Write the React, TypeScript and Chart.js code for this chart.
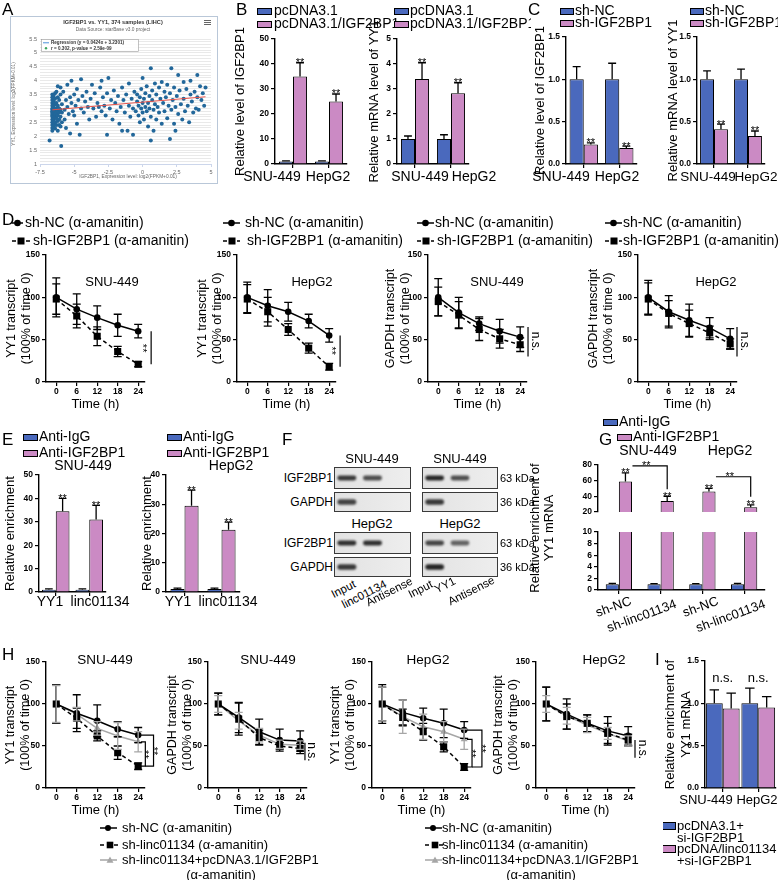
import React, { useEffect, useRef } from 'react';
import { Chart, registerables } from 'chart.js';

Chart.register(...registerables);

const FONT = '"Liberation Sans", Arial, Helvetica, sans-serif';
const BLUE = '#4a69bd';
const PINK = '#cb8ac4';
const GREY = '#a6a6a6';
const DOT = '#22679a';

/* ====================== DATA ====================== */
// Panel A (scatter, starBase screenshot)
const aTicksX = [-7.5, -5, -2.5, 0, 2.5, 5];
const aTicksY = [1, 1.5, 2, 2.5, 3, 3.5, 4, 4.5, 5, 5.5];
const aRegX = [-6.6, 4.6];
const aRegY = [2.95, 3.42];
const aPoints: number[][] = [
  [-6.8, 1.85], [-6.6, 3.5], [-6.6, 3.4], [-6.6, 3.3], [-6.6, 3.2], [-6.6, 3.1], [-6.6, 3.0], [-6.6, 2.95], [-6.6, 2.9],
  [-6.6, 2.85], [-6.6, 2.8], [-6.6, 2.75], [-6.6, 2.7], [-6.6, 2.6], [-6.6, 2.5], [-6.6, 2.4], [-6.6, 2.3], [-6.6, 2.2],
  [-6.5, 3.45], [-6.5, 3.25], [-6.5, 3.05], [-6.5, 2.92], [-6.5, 2.82], [-6.5, 2.72], [-6.5, 2.62], [-6.5, 2.55], [-6.5, 2.45], [-6.5, 2.35],
  [-6.4, 3.55], [-6.4, 3.35], [-6.4, 3.15], [-6.4, 2.98], [-6.4, 2.88], [-6.4, 2.78], [-6.4, 2.68], [-6.4, 2.5], [-6.4, 2.28],
  [-6.3, 3.6], [-6.3, 3.2], [-6.3, 3.0], [-6.3, 2.85], [-6.3, 2.65], [-6.3, 2.4],
  [-6.2, 3.8], [-6.2, 3.4], [-6.2, 3.1], [-6.2, 2.9], [-6.2, 2.75], [-6.2, 2.55], [-6.2, 2.2],
  [-6.1, 3.3], [-6.1, 3.0], [-6.1, 2.85], [-6.1, 2.6], [-6.1, 2.4],
  [-6.0, 3.75], [-6.0, 3.5], [-6.0, 2.95], [-6.0, 2.7], [-6.0, 2.35], [-5.9, 3.15], [-5.9, 2.85], [-5.9, 2.5], [-5.95, 1.65],
  [-5.8, 3.6], [-5.7, 2.95], [-5.7, 2.6], [-5.6, 3.3], [-5.6, 2.3], [-5.5, 3.85], [-5.5, 3.05], [-5.4, 2.8], [-5.3, 3.4], [-5.3, 2.1],
  [-5.2, 4.0], [-5.2, 3.2], [-5.1, 2.9], [-5.0, 3.5], [-5.0, 2.75], [-4.9, 3.1], [-4.8, 3.7], [-4.8, 2.45], [-4.7, 3.3], [-4.6, 2.05],
  [-4.5, 3.0], [-4.5, 4.05], [-4.4, 3.45], [-4.3, 2.85], [-4.2, 3.25], [-4.1, 3.6], [-4.0, 3.05], [-3.9, 2.6], [-3.8, 3.35], [-3.7, 3.85],
  [-3.6, 3.0], [-3.5, 3.55], [-3.4, 2.7], [-3.3, 3.2], [-3.2, 3.05], [-3.1, 3.75], [-3.0, 2.9], [-3.0, 4.0],
  [-2.9, 3.4], [-2.8, 3.1], [-2.7, 2.75], [-2.6, 3.55], [-2.6, 2.05], [-2.5, 4.1], [-2.4, 3.0], [-2.3, 3.3], [-2.2, 2.6], [-2.1, 3.65],
  [-2.0, 3.2], [-1.9, 2.9], [-1.8, 3.45], [-1.7, 2.45], [-1.6, 3.05], [-1.5, 3.75], [-1.5, 2.2], [-1.4, 3.3], [-1.3, 2.85], [-1.2, 3.5],
  [-1.1, 2.2], [-1.0, 3.1], [-1.0, 3.9], [-0.9, 2.7], [-0.8, 3.35], [-0.7, 2.05], [-0.7, 3.0], [-0.6, 3.6], [-0.5, 2.9],
  [-0.4, 3.25], [-0.4, 3.5], [-0.3, 2.75], [-0.3, 3.1], [-0.2, 3.4], [-0.2, 2.5], [-0.1, 3.0], [-0.1, 3.7], [0.0, 3.2], [0.0, 2.85],
  [0.0, 4.1], [0.1, 3.35], [0.1, 2.6], [0.2, 3.05], [0.2, 3.55], [0.3, 2.9], [0.3, 3.8], [0.4, 3.2], [0.4, 2.35], [0.5, 3.45],
  [0.5, 3.0], [0.6, 4.45], [0.6, 2.7], [0.6, 1.85], [0.7, 3.3], [0.7, 3.65], [0.8, 2.95], [0.8, 2.2], [0.9, 3.15], [0.9, 3.9],
  [1.0, 3.5], [1.0, 2.6], [1.1, 3.05], [1.2, 3.75], [1.2, 2.85], [1.3, 3.35], [1.4, 2.45], [1.4, 3.95], [1.5, 3.2],
  [1.6, 3.6], [1.6, 2.9], [1.7, 3.4], [1.8, 2.65], [1.8, 3.85], [1.9, 3.1], [2.0, 1.9], [2.0, 3.55], [2.1, 4.45], [2.1, 2.95],
  [2.2, 3.3], [2.3, 2.45], [2.3, 3.75], [2.4, 3.05], [2.4, 2.2], [2.5, 3.45], [2.6, 4.2], [2.6, 2.8], [2.7, 3.65], [2.8, 3.15],
  [2.9, 2.6], [3.0, 3.95], [3.0, 3.35], [3.1, 2.9], [3.2, 3.7], [3.3, 3.1], [3.4, 2.5], [3.5, 3.5], [3.5, 4.0], [3.6, 3.25],
  [3.7, 2.85], [3.8, 3.6], [3.9, 3.0], [4.0, 3.4], [4.0, 4.2], [4.1, 2.95], [4.2, 3.8], [4.3, 3.3], [4.4, 3.55], [4.5, 3.1], [4.6, 3.75],
];

// Panel B
const cellLines = ['SNU-449', 'HepG2'];
const bTicksIgf = [0, 10, 20, 30, 40, 50];
const bIgfCtrl = [1, 1];
const bIgfCtrlErr = [0.25, 0.25];
const bIgfOe = [35, 25];
const bIgfOeErr = [5.5, 3];
const bTicksYy1 = [0, 1, 2, 3, 4, 5];
const bYy1Ctrl = [1, 1];
const bYy1CtrlErr = [0.12, 0.17];
const bYy1Oe = [3.4, 2.83];
const bYy1OeErr = [0.65, 0.42];

// Panel C
const cTicks = [0, 0.5, 1, 1.5];
const cIgfNc = [1, 1];
const cIgfNcErr = [0.15, 0.19];
const cIgfSh = [0.23, 0.19];
const cIgfShErr = [0.02, 0.02];
const cYy1Nc = [1, 1];
const cYy1NcErr = [0.1, 0.12];
const cYy1Sh = [0.41, 0.33];
const cYy1ShErr = [0.06, 0.06];

// Panel D (decay curves)
const timePoints = [0, 6, 12, 18, 24];
const dTicks = [0, 50, 100, 150];
const dSnuYy1Nc = [100, 86, 76, 67, 60];
const dSnuYy1NcErr = [23, 18, 14, 13, 8];
const dSnuYy1Sh = [98, 78, 54, 36, 21];
const dSnuYy1ShErr = [18, 14, 11, 6, 3];
const dHepYy1Nc = [100, 90, 83, 72, 55];
const dHepYy1NcErr = [18, 19, 11, 8, 8];
const dHepYy1Sh = [98, 83, 62, 40, 18];
const dHepYy1ShErr = [17, 17, 7, 6, 4];
const dSnuGapNc = [100, 82, 69, 60, 53];
const dSnuGapNcErr = [22, 18, 8, 14, 12];
const dSnuGapSh = [95, 79, 62, 51, 44];
const dSnuGapShErr = [17, 16, 13, 11, 8];
const dHepGapNc = [100, 83, 73, 64, 51];
const dHepGapNcErr = [20, 19, 19, 12, 12];
const dHepGapSh = [98, 81, 69, 58, 45];
const dHepGapShErr = [19, 15, 16, 8, 6];

// Panel E (RIP)
const eTargets = ['YY1', 'linc01134'];
const eTicksSnu = [0, 10, 20, 30, 40, 50];
const eTicksHep = [0, 10, 20, 30, 40];
const eSnuIgg = [1, 1];
const eSnuIggErr = [0.3, 0.3];
const eSnuIgf = [34.5, 31];
const eSnuIgfErr = [5.5, 6];
const eHepIgg = [1, 1];
const eHepIggErr = [0.3, 0.3];
const eHepIgf = [29.5, 21.3];
const eHepIgfErr = [5.3, 2.6];

// Panel F (RNA pull-down blots), band intensities per lane
const fLanesLinc = ['Input', 'linc01134', 'Antisense'];
const fLanesYy1 = ['Input', 'YY1', 'Antisense'];
const fSnuIgfLinc = [0.85, 0.75, 0];
const fSnuGapLinc = [0.8, 0, 0];
const fSnuIgfYy1 = [0.95, 0.75, 0];
const fSnuGapYy1 = [0.85, 0, 0];
const fHepIgfLinc = [0.9, 0.9, 0];
const fHepGapLinc = [0.85, 0, 0];
const fHepIgfYy1 = [0.8, 0.65, 0];
const fHepGapYy1 = [0.95, 0, 0];

// Panel G (broken axis)
const gGroups = ['sh-NC', 'sh-linc01134', 'sh-NC', 'sh-linc01134'];
const gTicksHigh = [20, 40, 60, 80];
const gTicksLow = [0, 2, 4, 6, 8, 10];
const gIgg = [1, 1, 1, 1];
const gIggErr = [0.15, 0.1, 0.1, 0.15];
const gIgf = [59, 34, 46, 26];
const gIgfErr = [11, 6, 4, 3];

// Panel H (decay curves, three groups)
const hSnuYy1Nc = [100, 89, 80, 70, 63];
const hSnuYy1NcErr = [23, 22, 19, 9, 9];
const hSnuYy1Sh = [100, 83, 62, 42, 26];
const hSnuYy1ShErr = [23, 12, 6, 8, 4];
const hSnuYy1Rs = [100, 88, 71, 62, 55];
const hSnuYy1RsErr = [22, 8, 8, 16, 12];
const hSnuGapNc = [100, 84, 67, 57, 56];
const hSnuGapNcErr = [13, 18, 15, 13, 12];
const hSnuGapSh = [100, 82, 60, 50, 47];
const hSnuGapShErr = [13, 19, 9, 4, 6];
const hSnuGapRs = [100, 80, 63, 52, 51];
const hSnuGapRsErr = [10, 10, 8, 5, 5];
const hHepYy1Nc = [100, 90, 83, 77, 69];
const hHepYy1NcErr = [23, 15, 12, 17, 10];
const hHepYy1Sh = [100, 84, 67, 49, 25];
const hHepYy1ShErr = [20, 10, 10, 6, 4];
const hHepYy1Rs = [100, 85, 73, 67, 58];
const hHepYy1RsErr = [20, 20, 15, 12, 12];
const hHepGapNc = [100, 88, 77, 68, 62];
const hHepGapNcErr = [20, 18, 10, 17, 11];
const hHepGapSh = [100, 85, 77, 65, 57];
const hHepGapShErr = [20, 15, 10, 12, 7];
const hHepGapRs = [100, 86, 75, 65, 56];
const hHepGapRsErr = [10, 10, 9, 7, 6];

// Panel I
const iTicks = [0, 0.5, 1, 1.5];
const iCtrl = [1, 1];
const iCtrlErr = [0.16, 0.18];
const iLinc = [0.94, 0.95];
const iLincErr = [0.18, 0.13];

/* ====================== PLUGINS ====================== */
const errPlugin = {
  id: 'errbars',
  afterDatasetsDraw(chart: any) {
    const { ctx, chartArea: ca } = chart;
    ctx.save();
    ctx.beginPath();
    ctx.rect(ca.left - 10, ca.top - 3, ca.right - ca.left + 20, ca.bottom - ca.top + 6);
    ctx.clip();
    chart.data.datasets.forEach((ds: any, di: number) => {
      if (!ds.err) return;
      const meta = chart.getDatasetMeta(di);
      const ys = chart.scales[meta.yAxisID];
      const isBar = meta.type === 'bar';
      ctx.strokeStyle = ds.errColor || '#000';
      ctx.lineWidth = 1.3;
      meta.data.forEach((el: any, i: number) => {
        const raw = ds.data[i];
        const v = typeof raw === 'number' ? raw : raw && raw.y;
        const e = ds.err[i];
        if (v == null || e == null) return;
        const x = el.x;
        const top = ys.getPixelForValue(v + e);
        const bot = isBar ? ys.getPixelForValue(v) : ys.getPixelForValue(v - e);
        const cap = isBar ? el.width * 0.28 : 4;
        ctx.beginPath();
        ctx.moveTo(x, top);
        ctx.lineTo(x, bot);
        ctx.moveTo(x - cap, top);
        ctx.lineTo(x + cap, top);
        if (!isBar) {
          ctx.moveTo(x - cap, bot);
          ctx.lineTo(x + cap, bot);
        }
        ctx.stroke();
      });
    });
    ctx.restore();
  },
};
Chart.register(errPlugin as any);

function drawText(ctx: any, t: string, x: number, y: number, s: number, align: string, rot: number, base: string, color = '#000', bold = false) {
  ctx.save();
  ctx.font = `${bold ? 'bold ' : ''}${s}px ${FONT}`;
  ctx.fillStyle = color;
  ctx.textAlign = align;
  let off = 0;
  if (base === 'star') { ctx.textBaseline = 'alphabetic'; off = 0.45 * s; }
  else if (base === 'starmid') { ctx.textBaseline = 'alphabetic'; off = 0.58 * s; }
  else ctx.textBaseline = 'middle';
  ctx.translate(x, y);
  if (rot) ctx.rotate((rot * Math.PI) / 180);
  ctx.fillText(t, 0, off);
  ctx.restore();
}

function deco(ox: number, oy: number, page: any[], data: any[]) {
  return {
    id: 'deco',
    afterDraw(chart: any) {
      const ctx = chart.ctx;
      const xs = chart.scales.x;
      const ys = chart.scales.y;
      const px = (s: any): number => {
        if (typeof s === 'number') return xs.getPixelForValue(s);
        if (Array.isArray(s)) return (px(s[0]) + px(s[1])) / 2;
        return chart.getDatasetMeta(s.ds).data[s.i].x + (s.dx || 0);
      };
      const py = (v: number) => ys.getPixelForValue(v);
      for (const it of data) {
        if (it.k === 'p') {
          ctx.save();
          ctx.strokeStyle = '#000';
          ctx.lineWidth = 1.2;
          ctx.beginPath();
          it.pts.forEach((p: any, j: number) => {
            const X = px(p[0]);
            const Y = py(p[1]);
            if (j) ctx.lineTo(X, Y); else ctx.moveTo(X, Y);
          });
          ctx.stroke();
          ctx.restore();
        } else if (it.k === 'star') {
          const ds = chart.data.datasets[it.ds];
          const X = chart.getDatasetMeta(it.ds).data[it.i].x;
          const Y = py(ds.data[it.i] + (ds.err ? ds.err[it.i] : 0)) - 1.5;
          drawText(ctx, it.t || '**', X, Y, it.s || 11, 'center', 0, 'star');
        } else if (it.k === 't') {
          drawText(ctx, it.t, px(it.x) + (it.dx || 0), py(it.y) + (it.dy || 0), it.s || 11, 'center', it.rot || 0, it.base || 'middle');
        }
      }
      for (const it of page) {
        ctx.save();
        if (it.k === 'text') {
          drawText(ctx, it.t, it.x - ox, it.y - oy, it.s || 13, it.a || 'left', it.rot || 0, 'middle', it.c || '#000', !!it.b);
        } else if (it.k === 'patch') {
          ctx.fillStyle = it.c;
          ctx.fillRect(it.x - ox, it.y - oy, it.w, it.h);
          ctx.strokeStyle = '#000';
          ctx.lineWidth = 1;
          ctx.strokeRect(it.x - ox + 0.5, it.y - oy + 0.5, it.w - 1, it.h - 1);
        } else if (it.k === 'key') {
          const y = it.y - oy;
          ctx.strokeStyle = it.c;
          ctx.fillStyle = it.c;
          ctx.lineWidth = 1.5;
          ctx.setLineDash(it.dash || []);
          ctx.beginPath();
          ctx.moveTo(it.x1 - ox, y);
          ctx.lineTo(it.x2 - ox, y);
          ctx.stroke();
          ctx.setLineDash([]);
          const mx = it.mx - ox;
          const r = it.r || 3.3;
          ctx.beginPath();
          if (it.m === 'circle' || it.m === 'dot') { ctx.arc(mx, y, r, 0, Math.PI * 2); ctx.fill(); }
          else if (it.m === 'rect') { ctx.fillRect(mx - r, y - r, 2 * r, 2 * r); }
          else if (it.m === 'tri') { ctx.moveTo(mx, y - r); ctx.lineTo(mx + r, y + r * 0.8); ctx.lineTo(mx - r, y + r * 0.8); ctx.closePath(); ctx.fill(); }
        } else if (it.k === 'rect') {
          if (it.fill) { ctx.fillStyle = it.fill; ctx.fillRect(it.x - ox, it.y - oy, it.w, it.h); }
          ctx.strokeStyle = it.c || '#999';
          ctx.lineWidth = it.lw || 1;
          ctx.strokeRect(it.x - ox, it.y - oy, it.w, it.h);
        } else if (it.k === 'line') {
          ctx.strokeStyle = it.c || '#000';
          ctx.lineWidth = it.lw || 1;
          ctx.beginPath();
          ctx.moveTo(it.x1 - ox, it.y1 - oy);
          ctx.lineTo(it.x2 - ox, it.y2 - oy);
          ctx.stroke();
        }
        ctx.restore();
      }
    },
  };
}

const blotBg = {
  id: 'blotBg',
  beforeDatasetsDraw(chart: any) {
    const { ctx, chartArea: ca } = chart;
    ctx.save();
    const g = ctx.createLinearGradient(ca.left, 0, ca.right, 0);
    g.addColorStop(0, '#e2e2e2');
    g.addColorStop(1, '#eeeeee');
    ctx.fillStyle = g;
    ctx.fillRect(ca.left, ca.top, ca.right - ca.left, ca.bottom - ca.top);
    ctx.restore();
    ctx.filter = 'blur(0.8px)';
  },
  afterDatasetsDraw(chart: any) {
    const { ctx, chartArea: ca } = chart;
    ctx.filter = 'none';
    ctx.save();
    ctx.strokeStyle = '#3a3a3a';
    ctx.lineWidth = 1;
    ctx.strokeRect(ca.left + 0.5, ca.top + 0.5, ca.right - ca.left - 1, ca.bottom - ca.top - 1);
    ctx.restore();
  },
};

/* ====================== BUILDERS ====================== */
type Frame = { l: number; t: number; r: number; b: number; yw: number; xh: number; pt: number; pr: number; pb?: number };
type Rect = { x: number; y: number; w: number; h: number };
type Spec = { frame: Frame; build: (r: Rect) => any };

const rectOf = (f: Frame): Rect => ({
  x: f.l - f.yw,
  y: f.t - f.pt,
  w: f.yw + (f.r - f.l) + f.pr,
  h: f.pt + (f.b - f.t) + f.xh + (f.pb || 0),
});

function baseOptions(f: Frame) {
  return {
    responsive: false,
    maintainAspectRatio: false,
    animation: false,
    events: [],
    layout: { padding: { left: 0, top: f.pt, right: f.pr, bottom: f.pb || 0 } },
    plugins: { legend: { display: false }, tooltip: { enabled: false }, title: { display: false } },
  };
}

const tickFont = () => ({ family: FONT, size: 8.5, weight: 'bold' });
const axisGrid = () => ({ display: true, drawOnChartArea: false, drawTicks: true, tickLength: 4, color: '#000', lineWidth: 1.2 });
const axisBorder = () => ({ display: true, color: '#000', width: 1.4 });

function yAxis(f: Frame, min: number, max: number, ticks: number[], title: any, ts = 13, fmt?: any) {
  return {
    type: 'linear',
    min,
    max,
    afterBuildTicks: (s: any) => { s.ticks = ticks.map((v) => ({ value: v })); },
    ticks: { font: tickFont(), color: '#000', padding: 2, autoSkip: false, callback: fmt || ((v: any) => String(v)) },
    grid: axisGrid(),
    border: axisBorder(),
    title: title ? { display: true, text: title, font: { family: FONT, size: ts }, color: '#000', padding: 0 } : { display: false },
    afterFit: (s: any) => { s.width = f.yw; },
  };
}

// category x axis: tick marks only, labels are placed as text where the original puts them
function xCat(f: Frame) {
  return {
    type: 'category',
    offset: true,
    ticks: { display: false, autoSkip: false },
    grid: { ...axisGrid(), offset: false },
    border: axisBorder(),
    afterFit: (s: any) => { s.height = f.xh; },
  };
}

function xTime(f: Frame) {
  return {
    type: 'linear',
    min: -3,
    max: 26,
    afterBuildTicks: (s: any) => { s.ticks = timePoints.map((v) => ({ value: v })); },
    ticks: { font: tickFont(), color: '#000', padding: 1, autoSkip: false },
    grid: axisGrid(),
    border: axisBorder(),
    title: { display: true, text: 'Time (h)', font: { family: FONT, size: 13 }, color: '#000', padding: 0 },
    afterFit: (s: any) => { s.height = f.xh; },
  };
}

const fix1 = (v: any) => Number(v).toFixed(1);

// label text items under a category axis (labels[i] centred at xs[i])
const catLabels = (labels: string[], xs: number[], y: number, s = 14) =>
  labels.map((t, i) => ({ k: 'text', x: xs[i], y, t, s, a: 'center' }));

function barSpec(f: Frame, o: any): Spec {
  return {
    frame: f,
    build: (r) => ({
      type: 'bar',
      data: {
        labels: o.labels,
        datasets: o.series.map((s: any) => ({
          data: s.v, err: s.e, backgroundColor: s.c, borderColor: '#000', borderWidth: 1,
          categoryPercentage: o.cp, barPercentage: o.bp || 1,
        })),
      },
      options: {
        ...baseOptions(f),
        scales: {
          x: o.x || xCat(f),
          y: yAxis(f, o.min, o.max, o.ticks, o.title, o.ts || 13, o.fmt),
        },
      },
      plugins: [deco(r.x, r.y, o.page || [], o.data || [])],
    }),
  };
}

const NC = { c: '#000', m: 'circle', r: 3.3 };
const SH = { c: '#000', m: 'rect', r: 5, dash: [4, 3] };
const RS = { c: GREY, m: 'triangle', r: 4 };

function lineSpec(f: Frame, o: any): Spec {
  return {
    frame: f,
    build: (r) => ({
      type: 'line',
      data: {
        datasets: o.series.map((s: any) => ({
          data: timePoints.map((t, i) => ({ x: t, y: s.v[i] })),
          err: s.e, errColor: s.st.c,
          borderColor: s.st.c, backgroundColor: s.st.c, pointBackgroundColor: s.st.c, pointBorderColor: s.st.c,
          borderWidth: 1.5, borderDash: s.st.dash || [], pointStyle: s.st.m, pointRadius: s.st.r, pointBorderWidth: 0,
          tension: 0, fill: false,
        })),
      },
      options: {
        ...baseOptions(f),
        scales: { x: xTime(f), y: yAxis(f, 0, 150, dTicks, o.title, 12.5) },
      },
      plugins: [deco(r.x, r.y, o.page || [], o.data || [])],
    }),
  };
}

function blotSpec(f: Frame, lanes: string[], ints: number[], half: number): Spec {
  return {
    frame: f,
    build: () => ({
      type: 'bar',
      data: {
        labels: lanes,
        datasets: [{
          data: ints.map((v) => (v > 0 ? [0.5 - half, 0.5 + half] : null)),
          backgroundColor: ints.map((v) => `rgba(26,26,26,${v})`),
          borderWidth: 0, borderRadius: 3, borderSkipped: false,
          categoryPercentage: 1, barPercentage: 0.74,
        }],
      },
      options: {
        ...baseOptions(f),
        scales: {
          x: { type: 'category', offset: true, display: false },
          y: { display: false, min: 0, max: 1 },
        },
      },
      plugins: [blotBg],
    }),
  };
}

/* ====================== CHART SPECS ====================== */
const specs: Spec[] = [];

// ---- A ----
{
  const f: Frame = { l: 40, t: 39, r: 211, b: 164, yw: 30, xh: 20, pt: 23, pr: 8 };
  specs.push({
    frame: f,
    build: (r) => ({
      type: 'scatter',
      data: {
        datasets: [
          { type: 'line', data: aRegX.map((x, i) => ({ x, y: aRegY[i] })), borderColor: '#e5534b', borderWidth: 1, pointRadius: 0 },
          { type: 'scatter', data: aPoints.map((p) => ({ x: p[0], y: p[1] })), backgroundColor: DOT, borderColor: DOT, pointRadius: 2, borderWidth: 0 },
        ],
      },
      options: {
        ...baseOptions(f),
        scales: {
          x: {
            type: 'linear', min: -7.5, max: 5,
            afterBuildTicks: (s: any) => { s.ticks = aTicksX.map((v) => ({ value: v })); },
            ticks: { font: { family: FONT, size: 5.5 }, color: '#666', padding: 2, autoSkip: false },
            grid: { drawOnChartArea: false, drawTicks: true, tickLength: 3, color: '#ccd6eb' },
            border: { display: true, color: '#ccd6eb', width: 1 },
            afterFit: (s: any) => { s.height = f.xh; },
          },
          y: {
            type: 'linear', min: 1, max: 5.5,
            afterBuildTicks: (s: any) => { const t: any[] = []; for (let k = 10; k <= 55; k++) t.push({ value: k / 10 }); s.ticks = t; },
            ticks: {
              font: { family: FONT, size: 5.5 }, color: '#666', padding: 3, autoSkip: false,
              callback: (v: any) => (aTicksY.some((t) => Math.abs(t - v) < 1e-6) ? String(v) : ''),
            },
            grid: { color: '#e3e3e3', drawTicks: false, lineWidth: 0.8 },
            border: { display: false },
            afterFit: (s: any) => { s.width = f.yw; },
          },
        },
      },
      plugins: [deco(r.x, r.y, [
        { k: 'rect', x: 10.5, y: 16.5, w: 207, h: 167, c: '#b9c7d8', lw: 1 },
        { k: 'text', x: 113, y: 22, t: 'IGF2BP1 vs. YY1, 374 samples (LIHC)', s: 5.6, a: 'center', b: true, c: '#333' },
        { k: 'text', x: 113, y: 30, t: 'Data Source: starBase v3.0 project', s: 4.8, a: 'center', c: '#666' },
        { k: 'line', x1: 204, y1: 20.5, x2: 211, y2: 20.5, c: '#666', lw: 1 },
        { k: 'line', x1: 204, y1: 22.5, x2: 211, y2: 22.5, c: '#666', lw: 1 },
        { k: 'line', x1: 204, y1: 24.5, x2: 211, y2: 24.5, c: '#666', lw: 1 },
        { k: 'rect', x: 41.5, y: 39.5, w: 97, h: 12, c: '#999', lw: 0.6, fill: 'rgba(255,255,255,0.9)' },
        { k: 'line', x1: 43, y1: 42.8, x2: 49, y2: 42.8, c: '#4a90d9', lw: 1 },
        { k: 'text', x: 51, y: 42.8, t: 'Regression (y = 0.0424x + 3.2301)', s: 4.6, b: true, c: '#333' },
        { k: 'key', x1: 46, x2: 46, mx: 46, y: 48.3, m: 'dot', r: 1.2, c: '#3aa55d' },
        { k: 'text', x: 51, y: 48.3, t: 'r = 0.302, p-value = 2.59e-09', s: 4.6, b: true, c: '#333' },
        { k: 'text', x: 14, y: 104, t: 'YY1, Expression level: log2(FPKM+0.01)', s: 4.6, a: 'center', rot: -90, c: '#666' },
        { k: 'text', x: 128, y: 177, t: 'IGF2BP1, Expression level: log2(FPKM+0.01)', s: 4.8, a: 'center', c: '#666' },
      ], [])],
    }),
  });
}

// ---- B ----
specs.push(barSpec({ l: 275, t: 39, r: 347, b: 164, yw: 42, xh: 25, pt: 39, pr: 52 }, {
  labels: cellLines, cp: 0.78, min: 0, max: 50, ticks: bTicksIgf, title: 'Relative level of IGF2BP1',
  series: [{ v: bIgfCtrl, e: bIgfCtrlErr, c: BLUE }, { v: bIgfOe, e: bIgfOeErr, c: PINK }],
  data: [{ k: 'star', ds: 1, i: 0 }, { k: 'star', ds: 1, i: 1 }],
  page: [
    { k: 'patch', x: 257, y: 8, w: 15, h: 7, c: BLUE }, { k: 'text', x: 274, y: 11.5, t: 'pcDNA3.1', s: 14 },
    { k: 'patch', x: 257, y: 21, w: 15, h: 7, c: PINK }, { k: 'text', x: 274, y: 24.5, t: 'pcDNA3.1/IGF2BP1', s: 14 },
    ...catLabels(cellLines, [272, 328], 177),
  ],
}));
specs.push(barSpec({ l: 397, t: 39, r: 469, b: 164, yw: 30, xh: 25, pt: 39, pr: 62 }, {
  labels: cellLines, cp: 0.78, min: 0, max: 5, ticks: bTicksYy1, title: 'Relative mRNA level of YY1',
  series: [{ v: bYy1Ctrl, e: bYy1CtrlErr, c: BLUE }, { v: bYy1Oe, e: bYy1OeErr, c: PINK }],
  data: [{ k: 'star', ds: 1, i: 0 }, { k: 'star', ds: 1, i: 1 }],
  page: [
    { k: 'patch', x: 394, y: 8, w: 15, h: 7, c: BLUE }, { k: 'text', x: 410, y: 11.5, t: 'pcDNA3.1', s: 14 },
    { k: 'patch', x: 394, y: 21, w: 15, h: 7, c: PINK }, { k: 'text', x: 410, y: 24.5, t: 'pcDNA3.1/IGF2BP1', s: 14 },
    ...catLabels(cellLines, [420, 474], 177),
  ],
}));

// ---- C ----
specs.push(barSpec({ l: 566, t: 37, r: 637, b: 164, yw: 33, xh: 25, pt: 37, pr: 18 }, {
  labels: cellLines, cp: 0.8, min: 0, max: 1.5, ticks: cTicks, fmt: fix1, title: 'Relative level of IGF2BP1',
  series: [{ v: cIgfNc, e: cIgfNcErr, c: BLUE }, { v: cIgfSh, e: cIgfShErr, c: PINK }],
  data: [{ k: 'star', ds: 1, i: 0 }, { k: 'star', ds: 1, i: 1 }],
  page: [
    { k: 'patch', x: 560, y: 8, w: 14, h: 7, c: BLUE }, { k: 'text', x: 575, y: 11, t: 'sh-NC', s: 14 },
    { k: 'patch', x: 560, y: 20, w: 14, h: 7, c: PINK }, { k: 'text', x: 575, y: 23.5, t: 'sh-IGF2BP1', s: 14 },
    ...catLabels(cellLines, [561, 617], 177),
  ],
}));
specs.push(barSpec({ l: 697, t: 37, r: 765, b: 164, yw: 31, xh: 25, pt: 37, pr: 13 }, {
  labels: cellLines, cp: 0.82, min: 0, max: 1.5, ticks: cTicks, fmt: fix1, title: 'Relative mRNA level of YY1',
  series: [{ v: cYy1Nc, e: cYy1NcErr, c: BLUE }, { v: cYy1Sh, e: cYy1ShErr, c: PINK }],
  data: [{ k: 'star', ds: 1, i: 0 }, { k: 'star', ds: 1, i: 1 }],
  page: [
    { k: 'patch', x: 690, y: 8, w: 14, h: 7, c: BLUE }, { k: 'text', x: 705, y: 11, t: 'sh-NC', s: 14 },
    { k: 'patch', x: 690, y: 20, w: 14, h: 7, c: PINK }, { k: 'text', x: 705, y: 23.5, t: 'sh-IGF2BP1', s: 14 },
    ...catLabels(cellLines, [708, 756], 177, 13.5),
  ],
}));

// ---- D ----
const dLegend = (k1: number[], t1: number, k2: number[], t2: number) => [
  { k: 'key', x1: k1[0], x2: k1[1], mx: (k1[0] + k1[1]) / 2, y: 223, m: 'circle', c: '#000', r: 3.3 },
  { k: 'text', x: t1, y: 223, t: 'sh-NC (α-amanitin)', s: 14 },
  { k: 'key', x1: k2[0], x2: k2[1], mx: k2[0] + 9, y: 241, m: 'rect', c: '#000', r: 3.5, dash: [4, 3] },
  { k: 'text', x: t2, y: 241, t: 'sh-IGF2BP1 (α-amanitin)', s: 14 },
];
const yy1Title = ['YY1 transcript', '(100% of time 0)'];
const gapTitle = ['GAPDH transcript', '(100% of time 0)'];

specs.push(lineSpec({ l: 46, t: 255, r: 145, b: 382, yw: 42, xh: 30, pt: 44, pr: 45 }, {
  title: yy1Title,
  series: [{ v: dSnuYy1Nc, e: dSnuYy1NcErr, st: NC }, { v: dSnuYy1Sh, e: dSnuYy1ShErr, st: SH }],
  data: [{ k: 'p', pts: [[27.8, 60], [27.8, 21]] }, { k: 't', x: 26.2, y: 40, t: '**', rot: 90, base: 'starmid' }],
  page: [...dLegend([12, 23], 25, [12, 31], 33), { k: 'text', x: 112, y: 282, t: 'SNU-449', s: 13, a: 'center' }],
}));
specs.push(lineSpec({ l: 237, t: 255, r: 336, b: 382, yw: 42, xh: 30, pt: 44, pr: 67 }, {
  title: yy1Title,
  series: [{ v: dHepYy1Nc, e: dHepYy1NcErr, st: NC }, { v: dHepYy1Sh, e: dHepYy1ShErr, st: SH }],
  data: [{ k: 'p', pts: [[27.2, 55], [27.2, 18]] }, { k: 't', x: 25.4, y: 37, t: '**', rot: 90, base: 'starmid' }],
  page: [...dLegend([223, 240], 245, [223, 240], 247), { k: 'text', x: 312, y: 282, t: 'HepG2', s: 13, a: 'center' }],
}));
specs.push(lineSpec({ l: 428, t: 255, r: 527, b: 382, yw: 45, xh: 30, pt: 44, pr: 66 }, {
  title: gapTitle,
  series: [{ v: dSnuGapNc, e: dSnuGapNcErr, st: NC }, { v: dSnuGapSh, e: dSnuGapShErr, st: SH }],
  data: [{ k: 'p', pts: [[26.3, 65], [26.3, 30]] }, { k: 't', x: 28.3, y: 48, t: 'n.s.', s: 12, rot: 90 }],
  page: [...dLegend([417, 434], 435, [417, 434], 437), { k: 'text', x: 497, y: 282, t: 'SNU-449', s: 13, a: 'center' }],
}));
specs.push(lineSpec({ l: 638, t: 255, r: 737, b: 382, yw: 52, xh: 30, pt: 44, pr: 41 }, {
  title: gapTitle,
  series: [{ v: dHepGapNc, e: dHepGapNcErr, st: NC }, { v: dHepGapSh, e: dHepGapShErr, st: SH }],
  data: [{ k: 'p', pts: [[26, 65], [26, 30]] }, { k: 't', x: 28, y: 48, t: 'n.s.', s: 12, rot: 90 }],
  page: [...dLegend([605, 622], 623, [605, 622], 623), { k: 'text', x: 716, y: 282, t: 'HepG2', s: 13, a: 'center' }],
}));

// ---- E ----
specs.push(barSpec({ l: 39, t: 475, r: 106, b: 592, yw: 36, xh: 20, pt: 48, pr: 25 }, {
  labels: eTargets, cp: 0.82, min: 0, max: 50, ticks: eTicksSnu, title: 'Relative enrichment',
  series: [{ v: eSnuIgg, e: eSnuIggErr, c: BLUE }, { v: eSnuIgf, e: eSnuIgfErr, c: PINK }],
  data: [{ k: 'star', ds: 1, i: 0 }, { k: 'star', ds: 1, i: 1 }],
  page: [
    { k: 'patch', x: 23, y: 434, w: 15, h: 7, c: BLUE }, { k: 'text', x: 39, y: 437, t: 'Anti-IgG', s: 14 },
    { k: 'patch', x: 23, y: 450, w: 15, h: 7, c: PINK }, { k: 'text', x: 39, y: 453, t: 'Anti-IGF2BP1', s: 14 },
    { k: 'text', x: 83, y: 466, t: 'SNU-449', s: 14, a: 'center' },
    ...catLabels(eTargets, [50, 100], 602),
  ],
}));
specs.push(barSpec({ l: 166, t: 475, r: 240, b: 592, yw: 26, xh: 20, pt: 48, pr: 35 }, {
  labels: eTargets, cp: 0.76, min: 0, max: 40, ticks: eTicksHep, title: 'Relative enrichment',
  series: [{ v: eHepIgg, e: eHepIggErr, c: BLUE }, { v: eHepIgf, e: eHepIgfErr, c: PINK }],
  data: [{ k: 'star', ds: 1, i: 0 }, { k: 'star', ds: 1, i: 1 }],
  page: [
    { k: 'patch', x: 167, y: 434, w: 15, h: 7, c: BLUE }, { k: 'text', x: 183, y: 437, t: 'Anti-IgG', s: 14 },
    { k: 'patch', x: 167, y: 450, w: 15, h: 7, c: PINK }, { k: 'text', x: 183, y: 453, t: 'Anti-IGF2BP1', s: 14 },
    { k: 'text', x: 231, y: 466, t: 'HepG2', s: 14, a: 'center' },
    ...catLabels(eTargets, [178, 228], 602),
  ],
}));

// ---- F blots ----
const fCols = [
  { l: 334, r: 411, rows: [fSnuIgfLinc, fSnuGapLinc, fHepIgfLinc, fHepGapLinc], lanes: fLanesLinc },
  { l: 422, r: 498, rows: [fSnuIgfYy1, fSnuGapYy1, fHepIgfYy1, fHepGapYy1], lanes: fLanesYy1 },
];
const fRows = [
  { t: 467, b: 489, half: 0.11 },
  { t: 492, b: 512, half: 0.14 },
  { t: 532, b: 554, half: 0.11 },
  { t: 557, b: 577, half: 0.14 },
];
fCols.forEach((col) => {
  fRows.forEach((row, ri) => {
    specs.push(blotSpec({ l: col.l, t: row.t, r: col.r, b: row.b, yw: 0, xh: 0, pt: 0, pr: 0 }, col.lanes, col.rows[ri], row.half));
  });
});

// ---- G (broken axis: lower then upper) ----
specs.push(barSpec({ l: 598, t: 532, r: 765, b: 590, yw: 78, xh: 42, pt: 120, pr: 13 }, {
  labels: gGroups, cp: 0.63, min: 0, max: 10, ticks: gTicksLow, title: null,
  series: [{ v: gIgg, e: gIggErr, c: BLUE }, { v: gIgf, e: gIgfErr, c: PINK }],
  page: [
    { k: 'patch', x: 603, y: 419, w: 15, h: 7, c: BLUE }, { k: 'text', x: 619, y: 422, t: 'Anti-IgG', s: 14 },
    { k: 'patch', x: 617, y: 434, w: 15, h: 7, c: PINK }, { k: 'text', x: 633, y: 437, t: 'Anti-IGF2BP1', s: 14 },
    { k: 'text', x: 648, y: 451, t: 'SNU-449', s: 14, a: 'center' },
    { k: 'text', x: 730, y: 451, t: 'HepG2', s: 14, a: 'center' },
    { k: 'text', x: 535, y: 528, t: 'Relative enrichment of', s: 13, a: 'center', rot: -90 },
    { k: 'text', x: 549, y: 528, t: 'YY1 mRNA', s: 13, a: 'center', rot: -90 },
    ...gGroups.map((t, i) => ({ k: 'text', x: [631, 676, 718, 765][i], y: [601, 604, 601, 604][i], t, s: 13, a: 'right', rot: -20 })),
  ],
}));
specs.push(barSpec({ l: 598, t: 465, r: 765, b: 519, yw: 22, xh: 0, pt: 16, pr: 13 }, {
  labels: gGroups, cp: 0.63, min: 20, max: 80, ticks: gTicksHigh, title: null,
  x: { type: 'category', offset: true, display: false },
  series: [{ v: gIgg, e: gIggErr, c: BLUE }, { v: gIgf, e: gIgfErr, c: PINK }],
  data: [
    { k: 'star', ds: 1, i: 0 }, { k: 'star', ds: 1, i: 1 }, { k: 'star', ds: 1, i: 2 }, { k: 'star', ds: 1, i: 3 },
    { k: 'p', pts: [[{ ds: 1, i: 0, dx: 7 }, 79], [{ ds: 1, i: 1 }, 79], [{ ds: 1, i: 1 }, 49]] },
    { k: 't', x: [{ ds: 1, i: 0 }, { ds: 1, i: 1 }], y: 79, dy: -1.5, t: '**', base: 'star' },
    { k: 'p', pts: [[{ ds: 1, i: 2, dx: 7 }, 65], [{ ds: 1, i: 3 }, 65], [{ ds: 1, i: 3 }, 39.5]] },
    { k: 't', x: [{ ds: 1, i: 2 }, { ds: 1, i: 3 }], y: 65, dy: -1.5, t: '**', base: 'star' },
  ],
}));

// ---- H ----
const hLegend = (kx: number, tx: number, cx: number) => [
  { k: 'key', x1: kx, x2: kx + 17, mx: kx + 8, y: 828, m: 'circle', c: '#000', r: 3 },
  { k: 'text', x: tx, y: 828, t: 'sh-NC (α-amanitin)', s: 13 },
  { k: 'key', x1: kx, x2: kx + 20, mx: kx + 10, y: 845, m: 'rect', c: '#000', r: 3.3, dash: [4, 3] },
  { k: 'text', x: tx, y: 845, t: 'sh-linc01134 (α-amanitin)', s: 13 },
  { k: 'key', x1: kx, x2: kx + 17, mx: kx + 10, y: 860, m: 'tri', c: GREY, r: 3.5 },
  { k: 'text', x: tx, y: 860, t: 'sh-linc01134+pcDNA3.1/IGF2BP1', s: 13 },
  { k: 'text', x: cx, y: 875, t: '(α-amanitin)', s: 13, a: 'center' },
];
specs.push(lineSpec({ l: 46, t: 662, r: 145, b: 788, yw: 43, xh: 30, pt: 12, pr: 185, pb: 62 }, {
  title: yy1Title,
  series: [{ v: hSnuYy1Nc, e: hSnuYy1NcErr, st: NC }, { v: hSnuYy1Sh, e: hSnuYy1ShErr, st: SH }, { v: hSnuYy1Rs, e: hSnuYy1RsErr, st: RS }],
  data: [
    { k: 'p', pts: [[24.8, 55], [26.1, 55], [26.1, 26], [24.8, 26]] },
    { k: 'p', pts: [[24.8, 63], [28.5, 63], [28.5, 26], [26.1, 26]] },
    { k: 't', x: 26.8, y: 40, t: '**', rot: 90, base: 'starmid' },
    { k: 't', x: 29.3, y: 44, t: '**', rot: 90, base: 'starmid' },
  ],
  page: [{ k: 'text', x: 105, y: 660, t: 'SNU-449', s: 13.5, a: 'center' }, ...hLegend(100, 122, 221)],
}));
specs.push(lineSpec({ l: 208, t: 662, r: 307, b: 788, yw: 43, xh: 30, pt: 12, pr: 24 }, {
  title: gapTitle,
  series: [{ v: hSnuGapNc, e: hSnuGapNcErr, st: NC }, { v: hSnuGapSh, e: hSnuGapShErr, st: SH }, { v: hSnuGapRs, e: hSnuGapRsErr, st: RS }],
  data: [{ k: 'p', pts: [[25.4, 54], [25.4, 33]] }, { k: 't', x: 27.4, y: 43, t: 'n.s.', s: 12, rot: 90 }],
  page: [{ k: 'text', x: 268, y: 660, t: 'SNU-449', s: 13.5, a: 'center' }],
}));
specs.push(lineSpec({ l: 372, t: 662, r: 471, b: 788, yw: 44, xh: 30, pt: 12, pr: 219, pb: 62 }, {
  title: yy1Title,
  series: [{ v: hHepYy1Nc, e: hHepYy1NcErr, st: NC }, { v: hHepYy1Sh, e: hHepYy1ShErr, st: SH }, { v: hHepYy1Rs, e: hHepYy1RsErr, st: RS }],
  data: [
    { k: 'p', pts: [[24.8, 58], [26.3, 58], [26.3, 25], [24.8, 25]] },
    { k: 'p', pts: [[24.8, 69], [29.2, 69], [29.2, 25], [26.3, 25]] },
    { k: 't', x: 27.1, y: 41, t: '**', rot: 90, base: 'starmid' },
    { k: 't', x: 30.0, y: 47, t: '**', rot: 90, base: 'starmid' },
  ],
  page: [{ k: 'text', x: 428, y: 660, t: 'HepG2', s: 13.5, a: 'center' }, ...hLegend(425, 442, 541)],
}));
specs.push(lineSpec({ l: 536, t: 662, r: 635, b: 788, yw: 45, xh: 30, pt: 12, pr: 22 }, {
  title: gapTitle,
  series: [{ v: hHepGapNc, e: hHepGapNcErr, st: NC }, { v: hHepGapSh, e: hHepGapShErr, st: SH }, { v: hHepGapRs, e: hHepGapRsErr, st: RS }],
  data: [{ k: 'p', pts: [[26, 57], [26, 36]] }, { k: 't', x: 28.2, y: 46, t: 'n.s.', s: 12, rot: 90 }],
  page: [{ k: 'text', x: 604, y: 660, t: 'HepG2', s: 13.5, a: 'center' }],
}));

// ---- I ----
specs.push(barSpec({ l: 705, t: 661, r: 776, b: 788, yw: 42, xh: 22, pt: 16, pr: 2, pb: 70 }, {
  labels: cellLines, cp: 0.95, min: 0, max: 1.5, ticks: iTicks, fmt: fix1,
  title: ['Relative enrichment of', 'YY1 mRNA'],
  series: [{ v: iCtrl, e: iCtrlErr, c: BLUE }, { v: iLinc, e: iLincErr, c: PINK }],
  data: [{ k: 't', x: 0, y: 1.29, t: 'n.s.', s: 13 }, { k: 't', x: 1, y: 1.29, t: 'n.s.', s: 13 }],
  page: [
    ...catLabels(cellLines, [706, 757], 800, 13),
    { k: 'patch', x: 662, y: 822, w: 14, h: 8, c: BLUE },
    { k: 'text', x: 677, y: 826, t: 'pcDNA3.1+', s: 13 },
    { k: 'text', x: 677, y: 838, t: 'si-IGF2BP1', s: 13 },
    { k: 'patch', x: 662, y: 845, w: 14, h: 8, c: PINK },
    { k: 'text', x: 677, y: 849, t: 'pcDNA/linc01134', s: 13 },
    { k: 'text', x: 677, y: 861, t: '+si-IGF2BP1', s: 13 },
  ],
}));

/* ====================== COMPONENTS ====================== */
function ChartCanvas({ spec }: { spec: Spec }) {
  const ref = useRef<HTMLCanvasElement>(null);
  const r = rectOf(spec.frame);
  useEffect(() => {
    const ch = new Chart(ref.current as HTMLCanvasElement, spec.build(r));
    return () => ch.destroy();
  }, []);
  return (
    <canvas
      ref={ref}
      width={r.w}
      height={r.h}
      style={{ position: 'absolute', left: r.x, top: r.y, width: r.w, height: r.h }}
    />
  );
}

function T({ x, y, t, s = 13, a = 'left', b = false, rot = 0 }: any) {
  let tr = a === 'center' ? 'translateX(-50%)' : a === 'right' ? 'translateX(-100%)' : '';
  if (rot) tr += ` rotate(${rot}deg)`;
  const origin = a === 'right' ? 'right center' : a === 'center' ? 'center center' : 'left center';
  return (
    <div
      style={{
        position: 'absolute', left: x, top: y - s * 0.5, fontFamily: FONT, fontSize: s, lineHeight: `${s}px`,
        fontWeight: b ? 'bold' : 'normal', whiteSpace: 'nowrap', transform: tr || undefined, transformOrigin: origin, color: '#000',
      }}
    >
      {t}
    </div>
  );
}

const letters = [
  { t: 'A', x: 2, y: 9 }, { t: 'B', x: 236, y: 9 }, { t: 'C', x: 528, y: 9 },
  { t: 'D', x: 2, y: 219 }, { t: 'E', x: 2, y: 439 }, { t: 'F', x: 282, y: 439 },
  { t: 'G', x: 599, y: 439 }, { t: 'H', x: 2, y: 654 }, { t: 'I', x: 655, y: 659 },
];

const fTexts = [
  { t: 'SNU-449', x: 372, y: 458, a: 'center', s: 13 }, { t: 'SNU-449', x: 460, y: 458, a: 'center', s: 13 },
  { t: 'HepG2', x: 372, y: 523, a: 'center', s: 13 }, { t: 'HepG2', x: 460, y: 523, a: 'center', s: 13 },
  { t: 'IGF2BP1', x: 333, y: 478, a: 'right', s: 12 }, { t: 'GAPDH', x: 333, y: 502, a: 'right', s: 12 },
  { t: 'IGF2BP1', x: 333, y: 543, a: 'right', s: 12 }, { t: 'GAPDH', x: 333, y: 567, a: 'right', s: 12 },
  { t: '63 kDa', x: 500, y: 478, s: 11 }, { t: '36 kDa', x: 500, y: 502, s: 11 },
  { t: '63 kDa', x: 500, y: 543, s: 11 }, { t: '36 kDa', x: 500, y: 567, s: 11 },
];
// lane labels under the blots (right end of each rotated label)
const fLaneLabelPos = [
  [355, 584], [386, 584], [412, 581],
  [432, 584], [455, 581], [494, 580],
];
const fLaneLabels = [...fLanesLinc, ...fLanesYy1];

export default function App() {
  return (
    <div style={{ position: 'absolute', left: 0, top: 0, width: 778, height: 880, background: '#fff', overflow: 'hidden' }}>
      {specs.map((s, i) => <ChartCanvas key={i} spec={s} />)}
      {letters.map((l, i) => <T key={'l' + i} x={l.x} y={l.y} t={l.t} s={17} />)}
      {fTexts.map((l, i) => <T key={'f' + i} x={l.x} y={l.y} t={l.t} s={l.s} a={l.a} />)}
      {fLaneLabels.map((t, i) => (
        <T key={'fl' + i} x={fLaneLabelPos[i][0]} y={fLaneLabelPos[i][1]} t={t} s={11.5} a="right" rot={-27} />
      ))}
    </div>
  );
}
